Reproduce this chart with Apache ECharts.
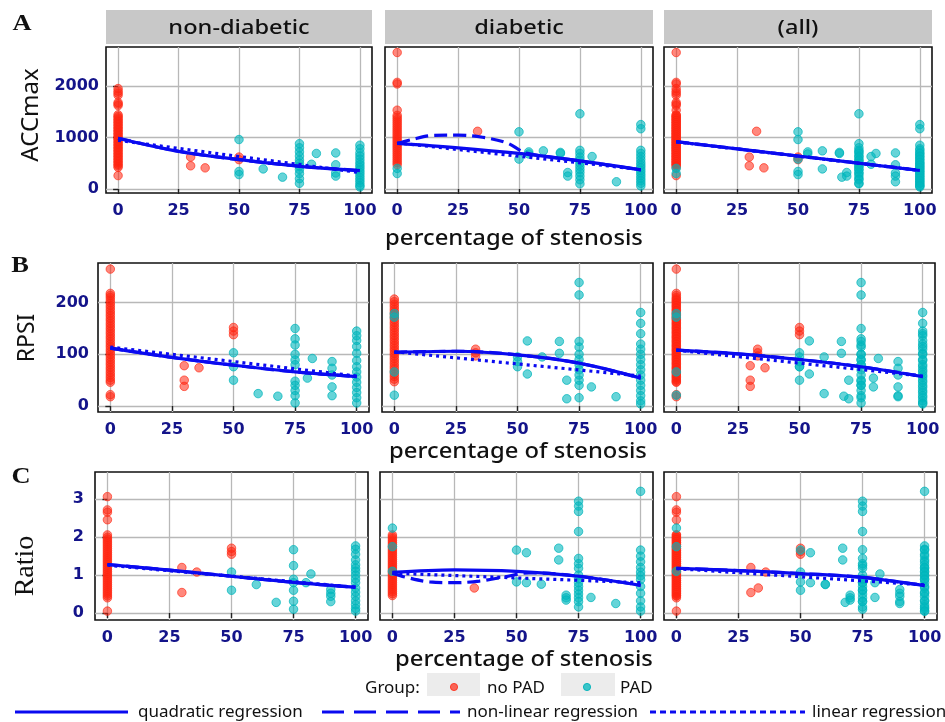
<!DOCTYPE html>
<html>
<head>
<meta charset="utf-8">
<script src="https://cdn.jsdelivr.net/npm/echarts@6/dist/echarts.min.js"></script>
<style>
  html, body { margin: 0; padding: 0; background: #fff; }
  #chart { width: 945px; height: 722px; }
</style>
</head>
<body>
<div id="chart"></div>
<script>
// ---- facet labels and axis ticks ----
const facetNames = ['non-diabetic', 'diabetic', '(all)'];
const rowLetters = ['A', 'B', 'C'];
const rowTitles = ['ACCmax', 'RPSI', 'Ratio'];
const xTicks = [0, 25, 50, 75, 100];
const accTicks = [0, 1000, 2000];
const rpsiTicks = [0, 100, 200];
const ratioTicks = [0, 1, 2, 3];

// ---- ACCmax observations [stenosis %, value] ----
const accNonNoPad = [
  [0,1950],[0,1900],[0,1860],[0,1820],[0,1680],[0,1650],[0,1620],[0,1440],[0,1410],[0,1380],
  [0,1350],[0,1320],[0,1290],[0,1260],[0,1230],[0,1200],[0,1170],[0,1140],[0,1110],[0,1080],
  [0,1050],[0,1020],[0,990],[0,960],[0,930],[0,900],[0,870],[0,840],[0,810],[0,780],[0,750],
  [0,720],[0,690],[0,660],[0,630],[0,600],[0,570],[0,540],[0,510],[0,480],[0,450],[0,420],[0,260],
  [30,620],[30,450],[36,410],[50,620],[50,570]
];
const accNonPad = [
  [50,960],[50,340],[50,280],[60,390],[68,230],
  [75,880],[75,800],[75,720],[75,640],[75,560],[75,500],[75,440],[75,380],[75,300],[75,200],[75,110],
  [80,480],[82,690],[90,700],[90,470],[90,310],[90,250],
  [100,850],[100,780],[100,700],[100,640],[100,580],[100,520],[100,470],[100,420],[100,370],
  [100,320],[100,270],[100,220],[100,170],[100,120],[100,70],[100,40]
];
const accDiabNoPad = [
  [0,2650],[0,2070],[0,2040],[0,1530],[0,1430],[0,1390],[0,1350],[0,1310],[0,1270],[0,1230],
  [0,1190],[0,1150],[0,1110],[0,1070],[0,1030],[0,990],[0,950],[0,910],[0,870],[0,830],[0,790],
  [0,750],[0,710],[0,670],[0,630],[0,590],[0,550],[0,510],[0,470],
  [33,1120]
];
const accDiabPad = [
  [0,400],[0,300],[50,1110],[50,580],[54,720],[54,680],[60,740],[67,710],[67,690],[70,320],[70,250],
  [75,1460],[75,750],[75,690],[75,620],[75,560],[75,500],[75,440],[75,380],[75,320],[75,250],[75,180],[75,100],
  [80,630],[90,140],
  [100,1250],[100,1170],[100,750],[100,690],[100,630],[100,570],[100,510],[100,460],[100,410],
  [100,360],[100,310],[100,260],[100,210],[100,160],[100,110],[100,60]
];

// ---- RPSI observations ----
const rpsiNonNoPad = [
  [0,265],[0,218],[0,214],[0,210],[0,205],[0,200],[0,195],[0,190],[0,185],[0,180],[0,175],[0,170],
  [0,165],[0,160],[0,155],[0,150],[0,145],[0,140],[0,135],[0,130],[0,125],[0,120],[0,115],[0,110],
  [0,105],[0,100],[0,95],[0,90],[0,85],[0,80],[0,75],[0,70],[0,65],[0,60],[0,55],[0,50],[0,46],
  [0,22],[0,18],
  [30,78],[30,50],[30,38],[36,74],[50,152],[50,145],[50,138]
];
const rpsiNonPad = [
  [50,103],[50,76],[50,50],[60,24],[68,19],
  [75,150],[75,130],[75,118],[75,100],[75,89],[75,80],[75,48],[75,40],[75,30],[75,20],[75,6],
  [80,54],[82,92],[90,86],[90,73],[90,60],[90,37],[90,20],
  [100,145],[100,136],[100,127],[100,115],[100,102],[100,88],[100,76],[100,66],[100,56],
  [100,46],[100,36],[100,26],[100,16],[100,6]
];
const rpsiDiabNoPad = [
  [0,207],[0,202],[0,197],[0,192],[0,187],[0,182],[0,177],[0,172],[0,167],[0,162],[0,157],[0,152],
  [0,147],[0,142],[0,137],[0,132],[0,127],[0,122],[0,117],[0,112],[0,107],[0,102],[0,97],[0,92],
  [0,87],[0,82],[0,77],[0,72],[0,67],[0,62],[0,57],[0,52],[0,47],
  [33,110],[33,103],[33,97]
];
const rpsiDiabPad = [
  [0,179],[0,172],[0,66],[0,21],[50,95],[50,86],[50,76],[54,126],[54,62],[60,95],[67,125],[67,102],
  [70,50],[70,14],
  [75,239],[75,215],[75,125],[75,114],[75,100],[75,90],[75,80],[75,70],[75,60],[75,50],[75,40],[75,16],
  [80,37],[90,18],
  [100,181],[100,160],[100,140],[100,120],[100,110],[100,100],[100,90],[100,80],[100,70],
  [100,60],[100,50],[100,40],[100,30],[100,20],[100,10],[100,4]
];

// ---- Ratio observations ----
const ratioNonNoPad = [
  [0,3.07],[0,2.72],[0,2.66],[0,2.46],[0,2.06],[0,2.0],[0,1.95],[0,1.9],[0,1.85],[0,1.8],[0,1.75],
  [0,1.7],[0,1.65],[0,1.6],[0,1.55],[0,1.5],[0,1.45],[0,1.4],[0,1.35],[0,1.3],[0,1.25],[0,1.2],
  [0,1.15],[0,1.1],[0,1.05],[0,1.0],[0,0.95],[0,0.9],[0,0.85],[0,0.8],[0,0.75],[0,0.7],[0,0.65],
  [0,0.6],[0,0.55],[0,0.5],[0,0.45],[0,0.4],[0,0.05],
  [30,1.2],[30,0.54],[36,1.08],[50,1.71],[50,1.62],[50,1.55]
];
const ratioNonPad = [
  [50,1.08],[50,0.6],[60,0.75],[68,0.28],
  [75,1.67],[75,1.25],[75,0.89],[75,0.8],[75,0.6],[75,0.31],[75,0.1],
  [80,0.8],[82,1.03],[90,0.62],[90,0.52],[90,0.44],[90,0.3],
  [100,1.77],[100,1.68],[100,1.55],[100,1.4],[100,1.27],[100,1.18],[100,1.1],[100,1.0],[100,0.9],
  [100,0.8],[100,0.66],[100,0.55],[100,0.44],[100,0.32],[100,0.22],[100,0.12],[100,0.05]
];
const ratioDiabNoPad = [
  [0,2.06],[0,2.01],[0,1.96],[0,1.91],[0,1.86],[0,1.81],[0,1.76],[0,1.71],[0,1.66],[0,1.61],[0,1.56],
  [0,1.51],[0,1.46],[0,1.41],[0,1.36],[0,1.31],[0,1.26],[0,1.21],[0,1.16],[0,1.11],[0,1.06],[0,1.01],
  [0,0.96],[0,0.91],[0,0.86],[0,0.81],[0,0.76],[0,0.71],[0,0.66],[0,0.61],[0,0.56],[0,0.51],[0,0.46],
  [33,0.66]
];
const ratioDiabPad = [
  [0,2.24],[0,1.75],[0,1.1],[50,1.66],[50,0.82],[54,1.59],[54,0.8],[60,0.76],[67,1.71],[67,1.4],
  [70,0.47],[70,0.4],[70,0.34],
  [75,2.95],[75,2.82],[75,2.68],[75,2.15],[75,1.44],[75,1.3],[75,1.18],[75,1.0],[75,0.9],[75,0.8],
  [75,0.7],[75,0.6],[75,0.5],[75,0.4],[75,0.3],[75,0.16],
  [80,0.41],[90,0.25],
  [100,3.21],[100,1.66],[100,1.5],[100,1.35],[100,1.2],[100,1.08],[100,0.98],[100,0.88],[100,0.7],
  [100,0.52],[100,0.32],[100,0.16],[100,0.05]
];

// ---- fitted curves per facet: quadratic / non-linear / linear ----
const accNonQuad = [[0,985],[25,730],[50,572],[75,440],[100,358]];
const accNonNl = [[0,985],[25,732],[50,570],[75,442],[100,360]];
const accNonLin = [[0,945],[100,318]];
const accDiabQuad = [[0,885],[25,800],[50,690],[75,545],[100,372]];
const accDiabNl = [[0,880],[6,960],[15,1040],[25,1045],[35,1005],[45,895],[53,700],[75,545],[100,372]];
const accDiabLin = [[0,895],[100,378]];
const accAllQuad = [[0,917],[50,640],[100,359]];
const accAllNl = [[0,920],[50,640],[100,360]];
const accAllLin = [[0,915],[100,360]];

const rpsiNonQuad = [[0,112],[25,94],[50,79],[75,66],[100,57]];
const rpsiNonNl = [[0,112],[25,94],[50,79],[75,66],[100,57]];
const rpsiNonLin = [[0,114],[100,58]];
const rpsiDiabQuad = [[0,104],[25,106],[50,99],[75,83],[100,54]];
const rpsiDiabNl = [[0,104],[25,106],[50,99],[75,83],[100,54]];
const rpsiDiabLin = [[0,105],[100,58]];
const rpsiAllQuad = [[0,108],[25,101],[50,90],[75,76],[100,57]];
const rpsiAllNl = [[0,108],[25,101],[50,90],[75,76],[100,57]];
const rpsiAllLin = [[0,108],[100,58]];

const ratioNonQuad = [[0,1.28],[25,1.13],[50,0.97],[75,0.81],[100,0.68]];
const ratioNonNl = [[0,1.28],[25,1.13],[50,0.97],[75,0.81],[100,0.68]];
const ratioNonLin = [[0,1.26],[100,0.68]];
const ratioDiabQuad = [[0,1.07],[25,1.14],[50,1.1],[75,0.97],[100,0.73]];
const ratioDiabNl = [[0,1.05],[5,0.95],[15,0.82],[25,0.8],[35,0.84],[45,0.95],[55,1.06],[75,0.97],[100,0.73]];
const ratioDiabLin = [[0,1.05],[100,0.8]];
const ratioAllQuad = [[0,1.18],[25,1.12],[50,1.04],[75,0.94],[100,0.72]];
const ratioAllNl = [[0,1.18],[25,1.12],[50,1.04],[75,0.94],[100,0.72]];
const ratioAllLin = [[0,1.17],[100,0.74]];

// ---- layout of the 3 x 3 facet grid ----
const rows = [
  { top: 47, height: 146, lefts: [106, 385, 664], widths: [266, 268, 268], yMin: -78, yMax: 2757,
    ticks: accTicks, labelMargin: 7,
    noPad: [accNonNoPad, accDiabNoPad], pad: [accNonPad, accDiabPad],
    fits: [[accNonQuad, accNonNl, accNonLin], [accDiabQuad, accDiabNl, accDiabLin], [accAllQuad, accAllNl, accAllLin]] },
  { top: 263, height: 149, lefts: [98, 382, 664], widths: [271, 271, 271], yMin: -11.6, yMax: 276.8,
    ticks: rpsiTicks, labelMargin: 9,
    noPad: [rpsiNonNoPad, rpsiDiabNoPad], pad: [rpsiNonPad, rpsiDiabPad],
    fits: [[rpsiNonQuad, rpsiNonNl, rpsiNonLin], [rpsiDiabQuad, rpsiDiabNl, rpsiDiabLin], [rpsiAllQuad, rpsiAllNl, rpsiAllLin]] },
  { top: 472, height: 148, lefts: [95, 380, 664], widths: [273, 273, 273], yMin: -0.185, yMax: 3.72,
    ticks: ratioTicks, labelMargin: 11,
    noPad: [ratioNonNoPad, ratioDiabNoPad], pad: [ratioNonPad, ratioDiabPad],
    fits: [[ratioNonQuad, ratioNonNl, ratioNonLin], [ratioDiabQuad, ratioDiabNl, ratioDiabLin], [ratioAllQuad, ratioAllNl, ratioAllLin]] }
];

const NAVY = '#14148a';
const BLUE = '#0a0af0';
const RED_FILL = 'rgba(255,35,15,0.68)';
const RED_EDGE = 'rgba(255,45,25,0.85)';
const CYAN_FILL = 'rgba(0,184,190,0.75)';
const CYAN_EDGE = 'rgba(0,180,186,0.9)';
const tickFont = { color: NAVY, fontFamily: 'DejaVu Sans', fontWeight: 'bold', fontSize: 16 };
const fitNames = ['quadratic regression', 'non-linear regression', 'linear regression'];
const fitDash = ['solid', [13, 6], [3, 4]];

const grids = [], xAxes = [], yAxes = [], series = [];

rows.forEach((row, r) => {
  for (let c = 0; c < 3; c++) {
    const idx = grids.length;
    grids.push({
      left: row.lefts[c], top: row.top, width: row.widths[c], height: row.height,
      show: true, borderColor: '#111', borderWidth: 1.6, backgroundColor: '#fff'
    });
    xAxes.push({
      type: 'value', gridIndex: idx, min: -5, max: 105,
      axisLine: { show: false },
      axisTick: { show: true, length: 5, customValues: xTicks, lineStyle: { color: '#222', width: 1.4 } },
      axisLabel: Object.assign({ customValues: xTicks, margin: 10, formatter: v => String(v) }, tickFont),
      splitLine: { show: true, lineStyle: { color: '#b8b8b8', width: 1.3 } }
    });
    yAxes.push({
      type: 'value', gridIndex: idx, min: row.yMin, max: row.yMax,
      axisLine: { show: false },
      axisTick: { show: c === 0, length: 5, customValues: row.ticks, lineStyle: { color: '#222', width: 1.4 } },
      axisLabel: Object.assign({ show: c === 0, customValues: row.ticks, margin: row.labelMargin,
        formatter: v => String(v) }, tickFont),
      splitLine: { show: true, lineStyle: { color: '#b8b8b8', width: 1.3 } }
    });

    // the "(all)" column pools both groups of patients
    const noPad = c < 2 ? row.noPad[c] : row.noPad[0].concat(row.noPad[1]);
    const pad = c < 2 ? row.pad[c] : row.pad[0].concat(row.pad[1]);

    series.push({
      name: 'no PAD', type: 'scatter', xAxisIndex: idx, yAxisIndex: idx, data: noPad,
      symbolSize: 8.5, z: 3,
      itemStyle: { color: RED_FILL, borderColor: RED_EDGE, borderWidth: 1 }
    });
    series.push({
      name: 'PAD', type: 'scatter', xAxisIndex: idx, yAxisIndex: idx, data: pad,
      symbolSize: 8.5, z: 3,
      itemStyle: { color: CYAN_FILL, borderColor: CYAN_EDGE, borderWidth: 1 }
    });
    row.fits[c].forEach((fit, k) => {
      series.push({
        name: fitNames[k], type: 'line', xAxisIndex: idx, yAxisIndex: idx, data: fit,
        smooth: k === 2 ? false : 0.35, symbol: 'none', z: 4 + k, silent: true,
        lineStyle: { color: BLUE, width: 3.2, type: fitDash[k] }
      });
    });
  }
});

// facet strips, row letters, axis titles and the legend block
const graphic = [];
rows[0].lefts.forEach((l, c) => {
  graphic.push({ type: 'rect', shape: { x: l, y: 10, width: rows[0].widths[c], height: 34 },
    style: { fill: '#c8c8c8' } });
  graphic.push({ type: 'text', x: l + rows[0].widths[c] / 2, y: 28, scaleX: 1.18,
    style: { text: facetNames[c], fill: '#111', font: '500 20px "Noto Sans"', align: 'center', verticalAlign: 'middle' } });
});
const letterPos = [[22, 24], [20, 266], [21, 477]];
rowLetters.forEach((t, i) => {
  graphic.push({ type: 'text', x: letterPos[i][0], y: letterPos[i][1], scaleX: 1.1,
    style: { text: t, fill: '#111', font: 'bold 24px "Liberation Serif"', align: 'center', verticalAlign: 'middle' } });
});
const titlePos = [[31, 115, '24px "Noto Sans"'], [27, 338, '23px "Noto Sans"'], [26, 566, '28px "Liberation Serif"']];
rowTitles.forEach((t, i) => {
  graphic.push({ type: 'text', x: titlePos[i][0], y: titlePos[i][1], rotation: Math.PI / 2,
    style: { text: t, fill: '#111', font: titlePos[i][2], align: 'center', verticalAlign: 'middle' } });
});
[[514, 239], [518, 452], [524, 660]].forEach(p => {
  graphic.push({ type: 'text', x: p[0], y: p[1], scaleX: 1.08,
    style: { text: 'percentage of stenosis', fill: '#111', font: '500 22px "Noto Sans"', align: 'center', verticalAlign: 'middle' } });
});

// group legend
graphic.push({ type: 'text', x: 365, y: 688,
  style: { text: 'Group:', fill: '#111', font: '17px "Noto Sans"', verticalAlign: 'middle' } });
graphic.push({ type: 'rect', shape: { x: 427, y: 673, width: 53, height: 23 }, style: { fill: '#ececec' } });
graphic.push({ type: 'circle', shape: { cx: 454, cy: 687, r: 3.6 }, style: { fill: RED_FILL, stroke: RED_EDGE, lineWidth: 1 } });
graphic.push({ type: 'text', x: 487, y: 688,
  style: { text: 'no PAD', fill: '#111', font: '17px "Noto Sans"', verticalAlign: 'middle' } });
graphic.push({ type: 'rect', shape: { x: 561, y: 673, width: 54, height: 23 }, style: { fill: '#ececec' } });
graphic.push({ type: 'circle', shape: { cx: 587, cy: 687, r: 3.6 }, style: { fill: CYAN_FILL, stroke: CYAN_EDGE, lineWidth: 1 } });
graphic.push({ type: 'text', x: 620, y: 688,
  style: { text: 'PAD', fill: '#111', font: '17px "Noto Sans"', verticalAlign: 'middle' } });

// line-type legend
const lineKeys = [[15, 128, 138], [322, 460, 467], [650, 805, 812]];
lineKeys.forEach((k, i) => {
  graphic.push({ type: 'line', shape: { x1: k[0], y1: 712, x2: k[1], y2: 712 },
    style: { stroke: BLUE, lineWidth: 3.2, lineDash: i === 0 ? null : (i === 1 ? [22, 10] : [6, 4]) } });
  graphic.push({ type: 'text', x: k[2], y: 712,
    style: { text: fitNames[i], fill: '#111', font: '17px "Noto Sans"', verticalAlign: 'middle' } });
});

const chart = echarts.init(document.getElementById('chart'), null, { renderer: 'canvas' });
chart.setOption({
  animation: false,
  backgroundColor: '#fff',
  grid: grids,
  xAxis: xAxes,
  yAxis: yAxes,
  series: series,
  graphic: graphic
});
</script>
</body>
</html>
